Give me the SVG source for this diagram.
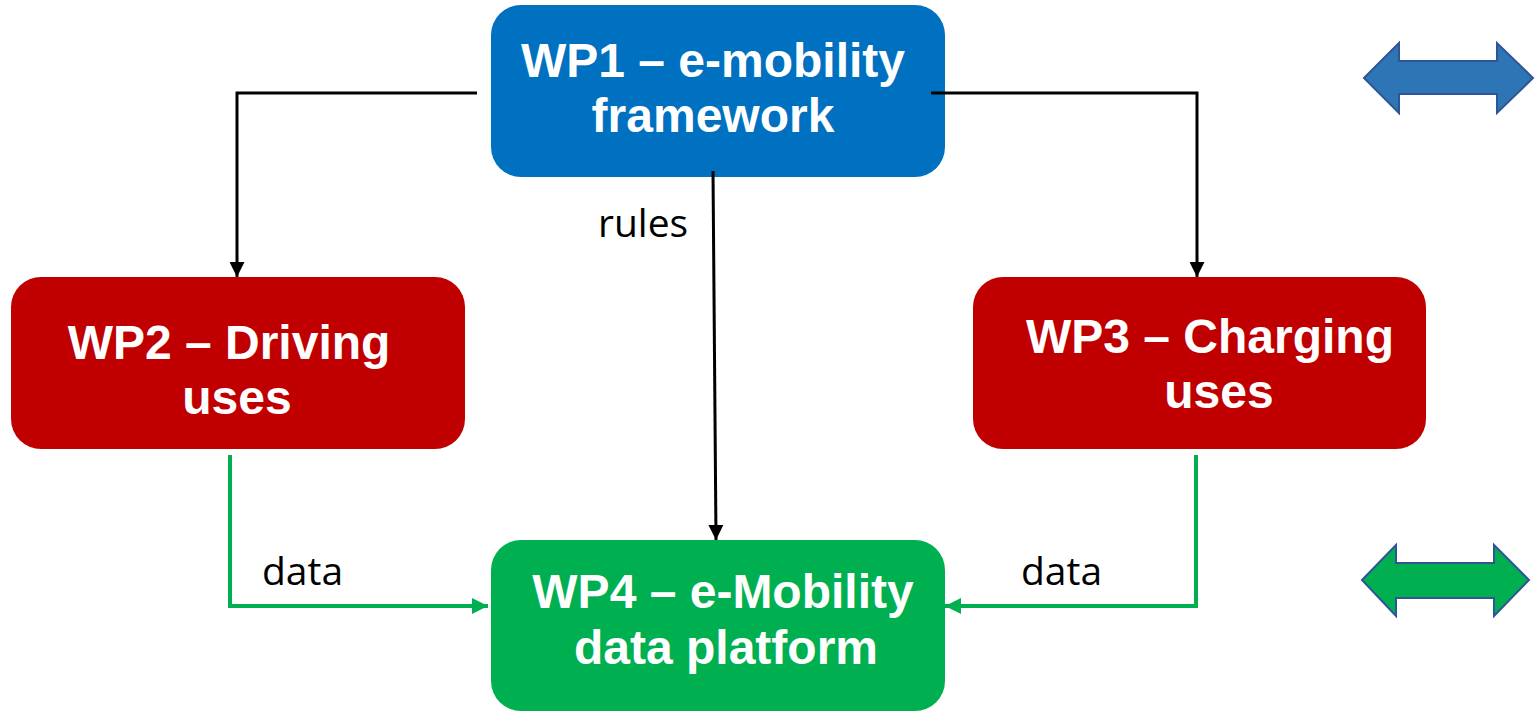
<svg xmlns="http://www.w3.org/2000/svg" width="1537" height="714" viewBox="0 0 1537 714">
<style>
.box text{font-family:"Liberation Sans",Arial,sans-serif;font-weight:bold;font-size:48px;fill:#fff;text-anchor:middle}
.lbl{font-family:"Open Sans","Liberation Sans",sans-serif;font-size:39px;fill:#000}
.blk{fill:none;stroke:#000;stroke-width:3}
.grn{fill:none;stroke:#00B050;stroke-width:4}
</style>
<defs>
<marker id="ab" viewBox="0 0 10 10" refX="10" refY="5" markerWidth="5" markerHeight="5" markerUnits="strokeWidth" orient="auto"><path d="M0,0 L10,5 L0,10 z" fill="#000"/></marker>
<marker id="ag" viewBox="0 0 10 10" refX="10" refY="5" markerWidth="4" markerHeight="4" markerUnits="strokeWidth" orient="auto"><path d="M0,0 L10,5 L0,10 z" fill="#00B050"/></marker>
</defs>
<rect width="1537" height="714" fill="#fff"/>
<g id="wp1" class="box">
<rect x="491" y="5" width="454" height="172" rx="30" fill="#0070C0"/>
<text x="713" y="77">WP1 – e-mobility</text>
<text x="713" y="132">framework</text>
</g>
<g id="wp2" class="box">
<rect x="11" y="277" width="454" height="172" rx="30" fill="#C00000"/>
<text x="229" y="359">WP2 – Driving</text>
<text x="237" y="414">uses</text>
</g>
<g id="wp3" class="box">
<rect x="973" y="277" width="453" height="172" rx="30" fill="#C00000"/>
<text x="1210" y="353">WP3 – Charging</text>
<text x="1219" y="408">uses</text>
</g>
<g id="wp4" class="box">
<rect x="491" y="540" width="454" height="171" rx="30" fill="#00B050"/>
<text x="723" y="608">WP4 – e-Mobility</text>
<text x="726" y="664">data platform</text>
</g>
<g id="connectors">
<polyline class="blk" points="477,93 237,93 237,277" marker-end="url(#ab)"/>
<polyline class="blk" points="931,93 1197,93 1197,277" marker-end="url(#ab)"/>
<line class="blk" x1="713" y1="171" x2="716" y2="540" marker-end="url(#ab)"/>
<polyline class="grn" points="230,455 230,606 488,606" marker-end="url(#ag)"/>
<polyline class="grn" points="1196,455 1196,606 945,606" marker-end="url(#ag)"/>
<text class="lbl" x="598" y="237">rules</text>
<text class="lbl" x="262" y="585">data</text>
<text class="lbl" x="1021" y="585">data</text>
</g>
<g id="arrow-blue">
<polygon points="1364,78 1399,43 1399,61 1497,61 1497,43 1533,78 1497,113 1497,94 1399,94 1399,113" fill="#2E75B6" stroke="#2F5597" stroke-width="2"/>
</g>
<g id="arrow-green">
<polygon points="1362,580 1396,545 1396,563 1494,563 1494,545 1529,580 1494,616 1494,598 1396,598 1396,616" fill="#00B050" stroke="#2F5597" stroke-width="2"/>
</g>
</svg>
